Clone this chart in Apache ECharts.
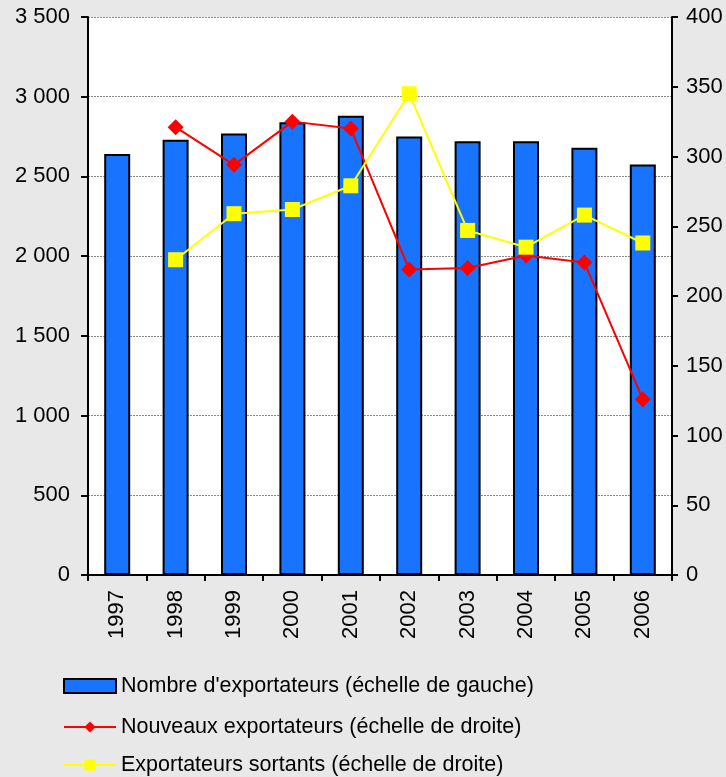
<!DOCTYPE html>
<html><head><meta charset="utf-8">
<script src="https://cdn.jsdelivr.net/npm/echarts@6/dist/echarts.min.js"></script>
<style>html,body{margin:0;padding:0;background:#e8e8e8}#c{width:726px;height:777px}</style>
</head><body><div id="c"></div>
<script>
const categories = ['1997','1998','1999','2000','2001','2002','2003','2004','2005','2006'];
const nombreExportateurs = [2640, 2730, 2770, 2840, 2880, 2750, 2720, 2720, 2680, 2575];
const nouveauxExportateurs = [null, 321, 294, 325, 320, 219, 220, 229, 224, 126];
const exportateursSortants = [null, 226, 259, 262, 279, 345, 247, 235, 258, 238];
const seriesNames = ["Nombre d'exportateurs (échelle de gauche)", "Nouveaux exportateurs (échelle de droite)", "Exportateurs sortants (échelle de droite)"];

const fmt = v => String(v).replace(/\B(?=(\d{3})+(?!\d))/g, ' ');
const font = 'Liberation Sans, Arial, sans-serif';
const legendRow = (name, top, icon) => ({
  orient: 'horizontal', left: 63, top: top, padding: 0, itemWidth: 52, itemHeight: 14, itemGap: 8,
  textStyle: {fontSize: 21.5, fontFamily: font, color: '#000'},
  data: [icon ? {name: name, icon: icon} : {name: name}]
});
const chart = echarts.init(document.getElementById('c'));
chart.setOption({
  backgroundColor: '#e8e8e8',
  animation: false,
  textStyle: {fontFamily: font, color: '#000'},
  grid: {left: 88, right: 54, top: 17, bottom: 202, show: true, backgroundColor: '#fff', borderWidth: 0},
  legend: [
    legendRow(seriesNames[0], 675, 'rect'),
    legendRow(seriesNames[1], 716),
    legendRow(seriesNames[2], 754)
  ],
  xAxis: {
    type: 'category', data: categories, boundaryGap: true,
    axisLine: {lineStyle: {color: '#000', width: 2}},
    axisTick: {show: true, interval: 0, length: 6, lineStyle: {color: '#000', width: 2}},
    axisLabel: {rotate: 90, fontSize: 22, color: '#000', fontFamily: font, margin: 15, interval: 0}
  },
  yAxis: [
    {type: 'value', min: 0, max: 3500, interval: 500, position: 'left',
     axisLine: {show: true, lineStyle: {color: '#000', width: 2}},
     axisTick: {show: true, length: 7, lineStyle: {color: '#000', width: 2}},
     axisLabel: {fontSize: 22, color: '#000', fontFamily: font, formatter: fmt, margin: 18},
     splitLine: {show: true, lineStyle: {color: '#8c8c8c', type: [2, 1], width: 1}}},
    {type: 'value', min: 0, max: 400, interval: 50, position: 'right',
     axisLine: {show: true, lineStyle: {color: '#000', width: 2}},
     axisTick: {show: true, length: 6, lineStyle: {color: '#000', width: 2}},
     axisLabel: {fontSize: 22, color: '#000', fontFamily: font, margin: 14},
     splitLine: {show: false}}
  ],
  series: [
    {name: seriesNames[0], type: 'bar', data: nombreExportateurs, yAxisIndex: 0, barWidth: 26,
     itemStyle: {color: '#1874ff', borderColor: '#000', borderWidth: 2}},
    {name: seriesNames[1], type: 'line', data: nouveauxExportateurs, yAxisIndex: 1,
     symbol: 'diamond', symbolSize: 16, connectNulls: false,
     lineStyle: {color: '#ff0000', width: 2}, itemStyle: {color: '#ff0000'}},
    {name: seriesNames[2], type: 'line', data: exportateursSortants, yAxisIndex: 1,
     symbol: 'rect', symbolSize: 15,
     lineStyle: {color: '#ffff00', width: 2}, itemStyle: {color: '#ffff00'}}
  ]
});
</script></body></html>
